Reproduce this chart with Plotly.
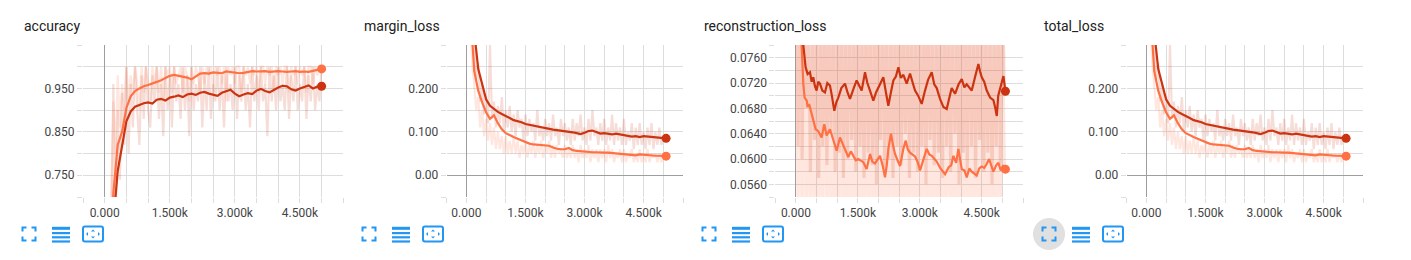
import plotly.graph_objects as go

W, H = 1411, 260

# ---------------- DATA ----------------
panel_titles = ["accuracy", "margin_loss", "reconstruction_loss", "total_loss"]
x_tick_vals = [0, 1500, 3000, 4500]
x_tick_text = ["0.000", "1.500k", "3.000k", "4.500k"]

# accuracy (smoothed, every 100 steps)
acc_steps = list(range(0, 5001, 100))
acc_dark = [0.10, 0.38, 0.64, 0.76, 0.822, 0.874, 0.897, 0.908, 0.912, 0.916,
            0.918, 0.915, 0.924, 0.926, 0.922, 0.929, 0.931, 0.934, 0.930, 0.936,
            0.938, 0.935, 0.940, 0.942, 0.938, 0.936, 0.933, 0.940, 0.944, 0.947,
            0.938, 0.932, 0.936, 0.939, 0.937, 0.945, 0.949, 0.944, 0.941, 0.947,
            0.952, 0.956, 0.955, 0.948, 0.945, 0.950, 0.954, 0.957, 0.950, 0.954,
            0.955]
acc_orange = [0.12, 0.45, 0.71, 0.82, 0.85, 0.905, 0.932, 0.944, 0.950, 0.955,
              0.958, 0.961, 0.965, 0.969, 0.975, 0.979, 0.981, 0.979, 0.977, 0.975,
              0.971, 0.978, 0.984, 0.985, 0.984, 0.987, 0.986, 0.985, 0.989, 0.988,
              0.987, 0.985, 0.986, 0.988, 0.990, 0.989, 0.989, 0.990, 0.988, 0.989,
              0.990, 0.989, 0.988, 0.989, 0.990, 0.988, 0.989, 0.988, 0.990, 0.992,
              0.995]
# accuracy raw (every 50 steps)
acc_raw_dark = [0.08, 0.22, 0.40, 0.58, 0.96, 0.64, 0.90, 0.74, 0.94, 0.82,
                1.00, 0.80, 0.96, 0.86, 1.00, 0.90, 0.82, 0.98, 0.88, 1.00,
                0.90, 0.86, 0.98, 0.92, 1.00, 0.88, 0.96, 0.84, 1.00, 0.90,
                0.98, 0.86, 1.00, 0.92, 0.96, 0.88, 1.00, 0.90, 0.98, 0.84,
                1.00, 0.90, 0.96, 0.92, 1.00, 0.86, 0.98, 0.90, 1.00, 0.88,
                0.96, 0.92, 1.00, 0.90, 0.98, 0.86, 1.00, 0.92, 0.96, 0.90,
                1.00, 0.88, 0.98, 0.92, 1.00, 0.90, 0.96, 0.86, 1.00, 0.92,
                0.98, 0.90, 1.00, 0.92, 0.96, 0.84, 1.00, 0.92, 0.98, 0.90,
                1.00, 0.92, 0.96, 0.90, 1.00, 0.88, 0.98, 0.92, 1.00, 0.90,
                0.96, 0.92, 1.00, 0.88, 0.98, 0.92, 1.00, 0.90, 0.96, 0.92,
                1.00]
acc_raw_orange = [0.10, 0.30, 0.52, 0.72, 0.92, 0.80, 0.98, 0.86, 0.96, 0.90,
                  1.00, 0.92, 0.98, 0.94, 1.00, 0.96, 0.90, 1.00, 0.94, 1.00,
                  0.96, 0.92, 1.00, 0.96, 1.00, 0.94, 1.00, 0.92, 1.00, 0.98,
                  1.00, 0.94, 1.00, 0.96, 0.98, 1.00, 0.94, 1.00, 0.98, 0.92,
                  1.00, 0.96, 1.00, 0.98, 0.94, 1.00, 0.96, 1.00, 0.98, 1.00,
                  0.94, 1.00, 0.98, 1.00, 0.96, 1.00, 0.92, 1.00, 0.98, 1.00,
                  0.96, 1.00, 1.00, 0.94, 1.00, 0.98, 1.00, 0.96, 1.00, 0.98,
                  1.00, 0.94, 1.00, 1.00, 0.96, 1.00, 0.98, 1.00, 0.94, 1.00,
                  0.98, 1.00, 0.96, 1.00, 1.00, 0.94, 1.00, 0.98, 1.00, 0.96,
                  1.00, 0.98, 1.00, 0.94, 1.00, 1.00, 0.96, 1.00, 0.98, 1.00,
                  1.00]

# margin loss (smoothed, every 100 steps + final step)
loss_steps = list(range(0, 5001, 100)) + [5070]
margin_dark = [0.80, 0.52, 0.33, 0.245, 0.207, 0.175, 0.160, 0.152, 0.146, 0.141,
               0.137, 0.132, 0.127, 0.125, 0.122, 0.118, 0.116, 0.114, 0.113, 0.110,
               0.108, 0.107, 0.105, 0.104, 0.103, 0.101, 0.100, 0.099, 0.097, 0.095,
               0.098, 0.102, 0.103, 0.099, 0.096, 0.097, 0.095, 0.094, 0.096, 0.094,
               0.092, 0.090, 0.089, 0.090, 0.088, 0.090, 0.089, 0.088, 0.087, 0.086,
               0.085, 0.085]
margin_orange = [0.70, 0.38, 0.24, 0.195, 0.168, 0.145, 0.130, 0.138, 0.120, 0.106,
                 0.097, 0.092, 0.088, 0.084, 0.080, 0.076, 0.073, 0.071, 0.070, 0.069,
                 0.069, 0.068, 0.064, 0.061, 0.060, 0.060, 0.063, 0.058, 0.056, 0.055,
                 0.054, 0.054, 0.053, 0.053, 0.052, 0.052, 0.052, 0.051, 0.050, 0.049,
                 0.049, 0.048, 0.047, 0.046, 0.048, 0.047, 0.046, 0.046, 0.045, 0.045,
                 0.044, 0.044]
# margin loss raw (every 50 steps)
margin_raw_dark = [0.90, 0.70, 0.50, 0.38, 0.30, 0.22, 0.26, 0.17, 0.21, 0.14,
                   0.18, 0.12, 0.30, 0.13, 0.17, 0.11, 0.16, 0.12, 0.18, 0.10,
                   0.15, 0.11, 0.16, 0.10, 0.14, 0.09, 0.15, 0.11, 0.13, 0.08,
                   0.14, 0.09, 0.13, 0.10, 0.12, 0.08, 0.15, 0.09, 0.11, 0.08,
                   0.13, 0.09, 0.12, 0.08, 0.14, 0.09, 0.11, 0.07, 0.13, 0.09,
                   0.12, 0.08, 0.11, 0.07, 0.13, 0.08, 0.12, 0.09, 0.14, 0.08,
                   0.11, 0.07, 0.13, 0.08, 0.15, 0.09, 0.11, 0.07, 0.12, 0.08,
                   0.13, 0.07, 0.11, 0.08, 0.14, 0.07, 0.12, 0.08, 0.11, 0.07,
                   0.13, 0.07, 0.10, 0.08, 0.12, 0.06, 0.11, 0.07, 0.12, 0.07,
                   0.10, 0.06, 0.11, 0.07, 0.12, 0.06, 0.10, 0.07, 0.11, 0.07,
                   0.09, 0.08]
margin_raw_orange = [0.85, 0.55, 0.34, 0.26, 0.20, 0.15, 0.18, 0.11, 0.15, 0.09,
                     0.13, 0.08, 0.12, 0.07, 0.11, 0.06, 0.10, 0.06, 0.09, 0.05,
                     0.09, 0.05, 0.08, 0.05, 0.09, 0.05, 0.08, 0.04, 0.07, 0.05,
                     0.08, 0.04, 0.07, 0.05, 0.08, 0.04, 0.07, 0.05, 0.08, 0.04,
                     0.07, 0.05, 0.08, 0.04, 0.07, 0.04, 0.07, 0.05, 0.06, 0.04,
                     0.07, 0.04, 0.06, 0.04, 0.07, 0.04, 0.06, 0.03, 0.07, 0.04,
                     0.06, 0.04, 0.07, 0.03, 0.06, 0.04, 0.06, 0.03, 0.06, 0.04,
                     0.06, 0.03, 0.07, 0.04, 0.06, 0.03, 0.05, 0.04, 0.06, 0.03,
                     0.06, 0.03, 0.05, 0.04, 0.06, 0.03, 0.05, 0.03, 0.06, 0.03,
                     0.05, 0.03, 0.06, 0.03, 0.05, 0.04, 0.05, 0.03, 0.05, 0.03,
                     0.05, 0.04]

# reconstruction loss (smoothed, irregular steps)
recon_dark_steps = [0, 100, 178, 234, 283, 340, 380, 420, 460, 501, 540, 582, 640, 703, 760,
                    824, 870, 929, 980, 1026, 1100, 1188, 1250, 1309, 1400, 1471, 1530, 1592,
                    1673, 1730, 1794, 1875, 1940, 1996, 2117, 2180, 2238, 2300, 2360, 2420,
                    2481, 2540, 2602, 2683, 2764, 2830, 2885, 2960, 3046, 3127, 3200, 3289,
                    3350, 3410, 3490, 3572, 3652, 3720, 3773, 3854, 3940, 4016, 4080, 4137,
                    4200, 4258, 4340, 4420, 4460, 4501, 4560, 4622, 4703, 4783, 4830, 4865,
                    4900, 4945, 5000, 5026, 5074]
recon_dark = [0.095, 0.088, 0.078, 0.0745, 0.0734, 0.0737, 0.0722, 0.0729, 0.0715, 0.0708,
              0.0722, 0.0719, 0.0708, 0.0705, 0.0720, 0.0716, 0.0700, 0.0676, 0.0690, 0.0697,
              0.0712, 0.0719, 0.0705, 0.0695, 0.0712, 0.0724, 0.0716, 0.0708, 0.0737, 0.0720,
              0.0708, 0.0692, 0.0705, 0.0713, 0.0729, 0.0705, 0.0684, 0.0705, 0.0724, 0.0730,
              0.0745, 0.0728, 0.0733, 0.0719, 0.0735, 0.0720, 0.0708, 0.0700, 0.0687, 0.0708,
              0.0725, 0.0737, 0.0718, 0.0712, 0.0695, 0.0682, 0.0679, 0.0698, 0.0712, 0.0703,
              0.0718, 0.0726, 0.0713, 0.0718, 0.0712, 0.0708, 0.0730, 0.0750, 0.0738, 0.0729,
              0.0722, 0.0708, 0.0697, 0.0693, 0.0680, 0.0668, 0.0700, 0.0712, 0.0725, 0.0731,
              0.0707]
recon_orange_steps = [0, 100, 137, 178, 210, 262, 283, 319, 367, 420, 477, 541, 580, 622, 687,
                      743, 824, 905, 986, 1067, 1130, 1188, 1269, 1330, 1390, 1450, 1511, 1632,
                      1713, 1794, 1850, 1915, 2036, 2100, 2157, 2200, 2238, 2303, 2350, 2400,
                      2460, 2521, 2602, 2659, 2710, 2764, 2885, 2950, 3006, 3080, 3168, 3230,
                      3289, 3410, 3500, 3612, 3700, 3760, 3814, 3880, 3935, 4016, 4080, 4137,
                      4200, 4258, 4379, 4440, 4500, 4560, 4620, 4678, 4730, 4783, 4850, 4904,
                      4960, 5020, 5074]
recon_orange = [0.090, 0.082, 0.078, 0.0719, 0.0697, 0.0692, 0.0682, 0.0687, 0.0675, 0.0658,
                0.0647, 0.0644, 0.0640, 0.0634, 0.0655, 0.0637, 0.0647, 0.0629, 0.0613, 0.0634,
                0.0625, 0.0616, 0.0603, 0.0612, 0.0606, 0.0598, 0.0600, 0.0595, 0.0584, 0.0608,
                0.0596, 0.0593, 0.0605, 0.0590, 0.0571, 0.0590, 0.0616, 0.0640, 0.0622, 0.0608,
                0.0598, 0.0589, 0.0616, 0.0629, 0.0615, 0.0610, 0.0604, 0.0595, 0.0582, 0.0598,
                0.0616, 0.0607, 0.0605, 0.0596, 0.0585, 0.0576, 0.0587, 0.0590, 0.0605, 0.0594,
                0.0616, 0.0584, 0.0582, 0.0571, 0.0585, 0.0580, 0.0574, 0.0585, 0.0588, 0.0586,
                0.0592, 0.0600, 0.0588, 0.0580, 0.0590, 0.0594, 0.0582, 0.0590, 0.0584]
# reconstruction loss raw (every 50 steps)
recon_raw_dark = [0.110, 0.062, 0.098, 0.060, 0.090, 0.068, 0.088, 0.058, 0.086, 0.063,
                  0.092, 0.057, 0.084, 0.062, 0.090, 0.059, 0.087, 0.064, 0.094, 0.058,
                  0.085, 0.061, 0.091, 0.057, 0.088, 0.060, 0.093, 0.063, 0.086, 0.058,
                  0.089, 0.062, 0.084, 0.057, 0.092, 0.061, 0.087, 0.059, 0.090, 0.056,
                  0.086, 0.063, 0.093, 0.058, 0.085, 0.060, 0.091, 0.057, 0.088, 0.062,
                  0.092, 0.059, 0.086, 0.064, 0.090, 0.057, 0.087, 0.061, 0.094, 0.058,
                  0.085, 0.062, 0.089, 0.056, 0.092, 0.063, 0.086, 0.059, 0.090, 0.061,
                  0.088, 0.057, 0.093, 0.062, 0.085, 0.058, 0.091, 0.064, 0.087, 0.056,
                  0.090, 0.061, 0.086, 0.058, 0.094, 0.062, 0.088, 0.057, 0.085, 0.063,
                  0.092, 0.058, 0.087, 0.061, 0.090, 0.056, 0.086, 0.062, 0.093, 0.059,
                  0.088, 0.070]
recon_raw_orange = [0.105, 0.050, 0.095, 0.046, 0.085, 0.052, 0.082, 0.045, 0.080, 0.050,
                    0.084, 0.044, 0.079, 0.052, 0.086, 0.046, 0.081, 0.049, 0.083, 0.043,
                    0.080, 0.050, 0.085, 0.045, 0.079, 0.048, 0.084, 0.042, 0.081, 0.051,
                    0.083, 0.046, 0.080, 0.044, 0.086, 0.050, 0.079, 0.045, 0.084, 0.047,
                    0.081, 0.043, 0.085, 0.049, 0.080, 0.045, 0.083, 0.051, 0.079, 0.044,
                    0.086, 0.048, 0.081, 0.042, 0.084, 0.050, 0.080, 0.046, 0.085, 0.044,
                    0.079, 0.051, 0.083, 0.045, 0.086, 0.047, 0.081, 0.043, 0.080, 0.049,
                    0.084, 0.044, 0.080, 0.050, 0.085, 0.046, 0.079, 0.042, 0.083, 0.048,
                    0.081, 0.045, 0.086, 0.049, 0.080, 0.043, 0.084, 0.050, 0.079, 0.046,
                    0.085, 0.044, 0.081, 0.048, 0.083, 0.045, 0.080, 0.049, 0.084, 0.047,
                    0.082, 0.058]

# total loss (visually identical to margin loss in the reference)
total_dark = [0.80, 0.52, 0.33, 0.245, 0.207, 0.175, 0.160, 0.152, 0.146, 0.141,
              0.137, 0.132, 0.127, 0.125, 0.122, 0.118, 0.116, 0.114, 0.113, 0.110,
              0.108, 0.107, 0.105, 0.104, 0.103, 0.101, 0.100, 0.099, 0.097, 0.095,
              0.098, 0.102, 0.103, 0.099, 0.096, 0.097, 0.095, 0.094, 0.096, 0.094,
              0.092, 0.090, 0.089, 0.090, 0.088, 0.090, 0.089, 0.088, 0.087, 0.086,
              0.085, 0.085]
total_orange = [0.70, 0.38, 0.24, 0.195, 0.168, 0.145, 0.130, 0.138, 0.120, 0.106,
                0.097, 0.092, 0.088, 0.084, 0.080, 0.076, 0.073, 0.071, 0.070, 0.069,
                0.069, 0.068, 0.064, 0.061, 0.060, 0.060, 0.063, 0.058, 0.056, 0.055,
                0.054, 0.054, 0.053, 0.053, 0.052, 0.052, 0.052, 0.051, 0.050, 0.049,
                0.049, 0.048, 0.047, 0.046, 0.048, 0.047, 0.046, 0.046, 0.045, 0.045,
                0.044, 0.044]
total_raw_dark = list(margin_raw_dark)
total_raw_orange = list(margin_raw_orange)

# ---------------- STYLE ----------------
DARK = "#cc3311"
ORANGE = "#ff7043"
DARK_RAW = "rgba(204,51,17,0.17)"
ORANGE_RAW = "rgba(255,112,67,0.17)"
GRID = "#dddddd"
ZERO = "#9e9e9e"
TICKFONT = dict(family="Roboto, Arial, sans-serif", size=12, color="#444444")
ICON = "#2196f3"

def fx(px):
    return px / W

def fy(py):
    return 1 - py / H

PLOT_TOP, PLOT_BOT = 45, 197
panels = [
    dict(title=panel_titles[0], tx=22, x0=83, x1=343.3, yr=[0.70, 1.05], ystep=0.05,
         rawwidth=2.2, ylab={0.75: "0.750", 0.85: "0.850", 0.95: "0.950"}),
    dict(title=panel_titles[1], tx=362, x0=446.7, x1=683, yr=[-0.05, 0.30], ystep=0.05,
         rawwidth=2.2, ylab={0.0: "0.00", 0.1: "0.100", 0.2: "0.200"}),
    dict(title=panel_titles[2], tx=702, x0=775.3, x1=1023, yr=[0.054, 0.078], ystep=0.002,
         rawwidth=3.2, ylab={0.056: "0.0560", 0.060: "0.0600", 0.064: "0.0640", 0.068: "0.0680",
                             0.072: "0.0720", 0.076: "0.0760"}),
    dict(title=panel_titles[3], tx=1042, x0=1126.7, x1=1363, yr=[-0.05, 0.30], ystep=0.05,
         rawwidth=2.2, ylab={0.0: "0.00", 0.1: "0.100", 0.2: "0.200"}),
]

series = [
    (acc_raw_dark, acc_raw_orange, acc_steps, acc_dark, acc_steps, acc_orange),
    (margin_raw_dark, margin_raw_orange, loss_steps, margin_dark, loss_steps, margin_orange),
    (recon_raw_dark, recon_raw_orange, recon_dark_steps, recon_dark, recon_orange_steps, recon_orange),
    (total_raw_dark, total_raw_orange, loss_steps, total_dark, loss_steps, total_orange),
]

fig = go.Figure()
layout = dict(width=W, height=H, margin=dict(l=0, r=0, t=0, b=0),
              paper_bgcolor="white", plot_bgcolor="white", showlegend=False,
              annotations=[], shapes=[])

x_grid = [v for v in range(-500, 5501, 500)]

for i, (p, s) in enumerate(zip(panels, series)):
    n = "" if i == 0 else str(i + 1)
    xa, ya = "x" + n, "y" + n
    raw_d, raw_o, sd, vd, so, vo = s
    raw_steps_d = [50 * k for k in range(len(raw_d))]
    raw_steps_o = [50 * k for k in range(len(raw_o))]
    fig.add_trace(go.Scatter(x=raw_steps_d, y=raw_d, mode="lines", xaxis=xa, yaxis=ya,
                             line=dict(color=DARK_RAW, width=p["rawwidth"]), hoverinfo="skip"))
    fig.add_trace(go.Scatter(x=raw_steps_o, y=raw_o, mode="lines", xaxis=xa, yaxis=ya,
                             line=dict(color=ORANGE_RAW, width=p["rawwidth"]), hoverinfo="skip"))
    fig.add_trace(go.Scatter(x=so, y=vo, mode="lines", xaxis=xa, yaxis=ya,
                             line=dict(color=ORANGE, width=2.2), hoverinfo="skip"))
    fig.add_trace(go.Scatter(x=sd, y=vd, mode="lines", xaxis=xa, yaxis=ya,
                             line=dict(color=DARK, width=2.2), hoverinfo="skip"))
    fig.add_trace(go.Scatter(x=[so[-1]], y=[vo[-1]], mode="markers", xaxis=xa, yaxis=ya,
                             marker=dict(color=ORANGE, size=9), hoverinfo="skip"))
    fig.add_trace(go.Scatter(x=[sd[-1]], y=[vd[-1]], mode="markers", xaxis=xa, yaxis=ya,
                             marker=dict(color=DARK, size=9), hoverinfo="skip"))

    lo, hi = p["yr"]
    nsteps = int(round((hi - lo) / p["ystep"]))
    y_grid = [round(lo + k * p["ystep"], 6) for k in range(nsteps + 1)]
    y_text = []
    for v in y_grid:
        lab = ""
        for key, t in p["ylab"].items():
            if abs(key - v) < 1e-9:
                lab = t
        y_text.append(lab)
    x_text = []
    for v in x_grid:
        lab = ""
        for key, t in zip(x_tick_vals, x_tick_text):
            if key == v:
                lab = t
        x_text.append(lab)

    layout["xaxis" + n] = dict(domain=[fx(p["x0"]), fx(p["x1"])], anchor=ya,
                               range=[-500, 5500], tickmode="array", tickvals=x_grid,
                               ticktext=x_text, showgrid=True, gridcolor=GRID, gridwidth=1,
                               ticks="outside", ticklen=5, tickcolor=GRID,
                               zeroline=True, zerolinecolor=ZERO, zerolinewidth=1,
                               showline=False, tickfont=TICKFONT, fixedrange=True)
    layout["yaxis" + n] = dict(domain=[fy(PLOT_BOT), fy(PLOT_TOP)], anchor=xa,
                               range=[lo, hi], tickmode="array", tickvals=y_grid,
                               ticktext=y_text, showgrid=True, gridcolor=GRID, gridwidth=1,
                               ticks="outside", ticklen=5, tickcolor=GRID,
                               zeroline=True, zerolinecolor=ZERO, zerolinewidth=1,
                               showline=False, tickfont=TICKFONT, fixedrange=True)
    layout["annotations"].append(dict(text=p["title"], x=fx(p["tx"]), y=fy(26),
                                      xref="paper", yref="paper", xanchor="left",
                                      yanchor="middle", showarrow=False,
                                      font=dict(family="Roboto, Arial, sans-serif",
                                                size=14, color="#212121")))

    # ---- icons under each card ----
    ox = p["tx"]
    cy = 234
    if i == 3:
        layout["shapes"].append(dict(type="circle", xref="paper", yref="paper",
                                     x0=fx(ox + 7 - 16), x1=fx(ox + 7 + 16),
                                     y0=fy(cy + 16), y1=fy(cy - 16),
                                     fillcolor="#e0e0e0", line=dict(width=0), layer="below"))
    # fullscreen corners
    a, b, c, d = ox + 0.5, cy - 6.5, ox + 13.5, cy + 6.5
    arm = 4
    corner_paths = [
        [(a, b + arm), (a, b), (a + arm, b)],
        [(c - arm, b), (c, b), (c, b + arm)],
        [(a, d - arm), (a, d), (a + arm, d)],
        [(c - arm, d), (c, d), (c, d - arm)],
    ]
    for pts in corner_paths:
        path = "M " + " L ".join(f"{fx(px)},{fy(py)}" for px, py in pts)
        layout["shapes"].append(dict(type="path", xref="paper", yref="paper", path=path,
                                     line=dict(color=ICON, width=2)))
    # headline icon (4 bars)
    for k, (y0, y1) in enumerate([(226.8, 229.8), (232.0, 234.2), (236.2, 238.4), (240.4, 242.6)]):
        layout["shapes"].append(dict(type="rect", xref="paper", yref="paper",
                                     x0=fx(ox + 30), x1=fx(ox + 48), y0=fy(y1), y1=fy(y0),
                                     fillcolor=ICON, line=dict(width=0)))
    # fit-domain icon (rounded rect + 4 arrowheads)
    rx0, rx1, ry0, ry1, r = ox + 61, ox + 81, cy - 7.5, cy + 7.5, 2
    path = (f"M {fx(rx0 + r)},{fy(ry0)} L {fx(rx1 - r)},{fy(ry0)} "
            f"Q {fx(rx1)},{fy(ry0)} {fx(rx1)},{fy(ry0 + r)} "
            f"L {fx(rx1)},{fy(ry1 - r)} Q {fx(rx1)},{fy(ry1)} {fx(rx1 - r)},{fy(ry1)} "
            f"L {fx(rx0 + r)},{fy(ry1)} Q {fx(rx0)},{fy(ry1)} {fx(rx0)},{fy(ry1 - r)} "
            f"L {fx(rx0)},{fy(ry0 + r)} Q {fx(rx0)},{fy(ry0)} {fx(rx0 + r)},{fy(ry0)} Z")
    layout["shapes"].append(dict(type="path", xref="paper", yref="paper", path=path,
                                 line=dict(color=ICON, width=2)))
    mx = (rx0 + rx1) / 2
    tris = [
        [(rx0 + 3, cy), (rx0 + 5, cy - 2), (rx0 + 5, cy + 2)],
        [(rx1 - 3, cy), (rx1 - 5, cy - 2), (rx1 - 5, cy + 2)],
        [(mx, ry0 + 3), (mx - 2, ry0 + 5), (mx + 2, ry0 + 5)],
        [(mx, ry1 - 3), (mx - 2, ry1 - 5), (mx + 2, ry1 - 5)],
    ]
    for pts in tris:
        path = "M " + " L ".join(f"{fx(px)},{fy(py)}" for px, py in pts) + " Z"
        layout["shapes"].append(dict(type="path", xref="paper", yref="paper", path=path,
                                     fillcolor=ICON, line=dict(width=0)))

fig.update_layout(**layout)
fig.write_html("out.html")
